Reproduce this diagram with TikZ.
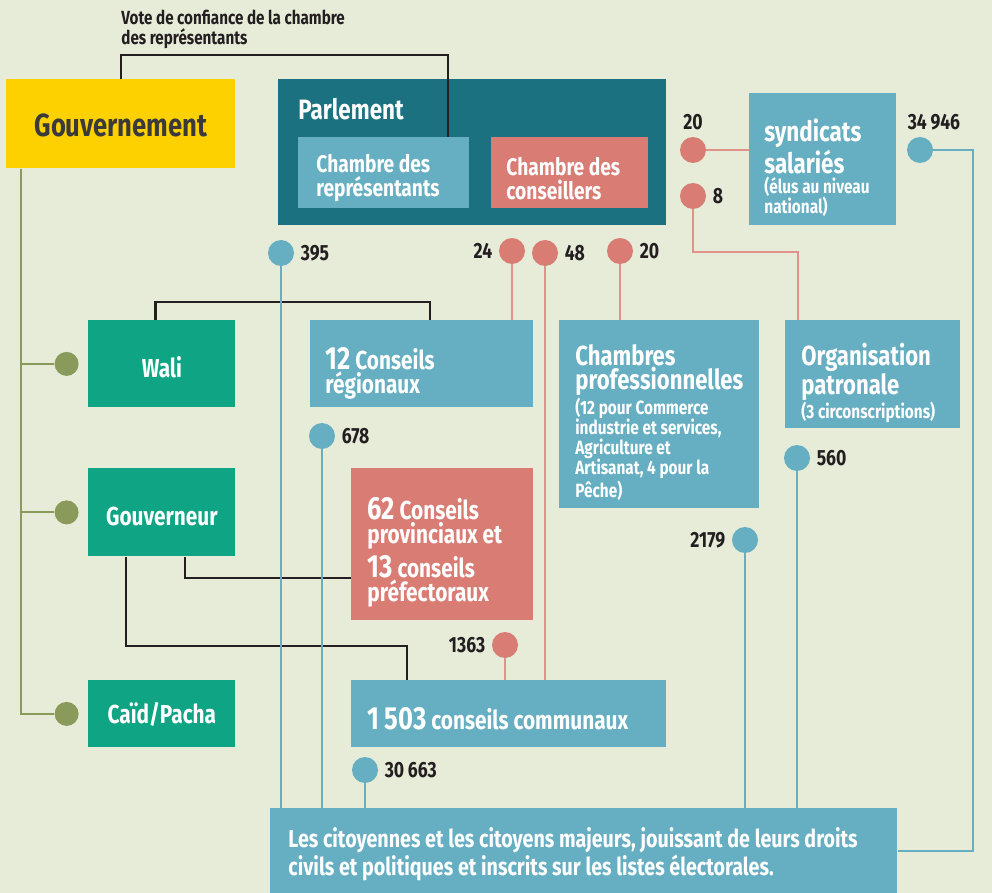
\documentclass[tikz,border=0pt]{standalone}
\usepackage{fontspec}
\setmainfont{Fira Sans}[FakeStretch=0.8]
\usetikzlibrary{positioning}
\setlength{\lineskiplimit}{-10pt}

\definecolor{fond}{HTML}{E7ECD9}
\definecolor{jaune}{HTML}{FDD100}
\definecolor{petrole}{HTML}{1B717F}
\definecolor{bleu}{HTML}{66AEC1}
\definecolor{saumon}{HTML}{D97C74}
\definecolor{saumonclair}{HTML}{E2928B}
\definecolor{vert}{HTML}{0FA584}
\definecolor{olive}{HTML}{8A9A5B}
\definecolor{encre}{HTML}{231F20}
\definecolor{gris}{HTML}{3A3A3A}

\newcommand{\gros}{\fontsize{16}{14}\selectfont}
\newcommand{\petit}{\fontsize{9.6}{10}\selectfont}
\newcommand{\moyen}{\fontsize{12}{10.5}\selectfont}

\tikzset{
    boite/.style={anchor=north west, inner xsep=8pt, inner ysep=0pt, align=flush left,
        text=white, font=\bfseries\fontsize{13}{12}\selectfont},
    bas/.style={execute at begin node={\rule{0pt}{\dimexpr0.74em+#1\relax}}},
    point/.style={circle, minimum size=13pt, inner sep=0pt},
    pbleu/.style={point, fill=bleu},
    psaumon/.style={point, fill=saumon},
    polive/.style={point, fill=olive, minimum size=12pt},
    nombre/.style={font=\bfseries\fontsize{11}{11}\selectfont, text=encre, inner sep=1pt},
    lbleu/.style={draw=bleu, line width=1pt},
    lsaumon/.style={draw=saumonclair, line width=1pt},
    lolive/.style={draw=olive, line width=1pt},
    lnoir/.style={draw=encre, line width=1.2pt}
}

\begin{document}
\begin{tikzpicture}[x=0.5pt, y=-0.5pt, label distance=2pt, every label/.style=nombre]
        \fill[fond] (0,0) rectangle (992,893);
        \useasboundingbox (0,0) rectangle (992,893);

        % boites
        \node[boite, fill=jaune, text=gris, align=center, minimum width=114.5pt, minimum height=44.5pt, text width=98.5pt,
            font=\bfseries\fontsize{16}{16}\selectfont, bas=1pt] (gouv) at (6,79) {Gouvernement};
        \node[boite, fill=petrole, minimum width=194pt, minimum height=73pt] (parl) at (278,79) {};
        \node[anchor=base west, inner sep=0pt, text=white, font=\bfseries\fontsize{14}{14}\selectfont] (parltxt) at (298,120) {Parlement};
        \node[boite, fill=bleu, inner xsep=9pt, minimum height=35.5pt, text width=67.5pt, bas=5pt] (chrep) at (298,137)
            {\moyen Chambre des\\représentants};
        \node[boite, fill=saumon, inner xsep=7.5pt, minimum height=35.5pt, text width=63.5pt, bas=5pt] (chcons) at (491,137)
            {\moyen Chambre des\\conseillers};
        \node[boite, fill=bleu, inner xsep=7.5pt, minimum height=66pt, text width=58.5pt, bas=10pt] (synd) at (749,93)
            {{\fontsize{14}{12.5}\selectfont syndicats\\salariés\par}{\petit (élus au niveau\\national)\par}};

        \node[boite, fill=vert, align=center, minimum height=43.5pt, text width=57.5pt, bas=4pt] (wali) at (88,320) {Wali};
        \node[boite, fill=vert, align=center, minimum height=44pt, text width=57.5pt, bas=4pt] (gouvr) at (88,468) {Gouverneur};
        \node[boite, fill=vert, align=center, minimum height=33.5pt, text width=57.5pt, bas=1pt] (caid) at (88,680) {Caïd/Pacha};

        \node[boite, fill=bleu, inner xsep=7.5pt, minimum height=43.5pt, text width=96.5pt, bas=11pt] (reg) at (310,320)
            {{\gros 12} Conseils\\régionaux};
        \node[boite, fill=bleu, minimum height=94pt, text width=84pt, bas=9pt] (cpro) at (559,320)
            {{\fontsize{13.8}{12}\selectfont Chambres\\professionnelles\par}{\petit (12 pour Commerce\\industrie et services,\\Agriculture et\\Artisanat, 4 pour la\\Pêche)\par}};
        \node[boite, fill=bleu, minimum height=54pt, text width=71.5pt, bas=10pt] (org) at (785,320)
            {{\fontsize{13.8}{12}\selectfont Organisation\\patronale\par}{\petit (3 circonscriptions)\par}};
        \node[boite, fill=saumon, minimum height=76pt, text width=75pt, bas=9pt] (prov) at (351,468)
            {{\gros 62} Conseils\\provinciaux et\\[2pt]{\gros 13} conseils\\préfectoraux};
        \node[boite, fill=bleu, minimum height=33.5pt, text width=141.5pt, bas=6pt] (comm) at (351,680)
            {{\gros 1\,503} conseils communaux};
        \node[boite, fill=bleu, inner xsep=9pt, minimum height=42.5pt, text width=295.5pt, bas=4pt] (cit) at (270,808)
            {\fontsize{12.3}{11}\selectfont Les citoyennes et les citoyens majeurs, jouissant de leurs droits\\civils et politiques et inscrits sur les listes électorales.};

        \node[anchor=north west, inner sep=0pt, align=left, text=encre, font=\bfseries\fontsize{9.5}{10}\selectfont] (vote) at (121,10)
            {Vote de confiance de la chambre\\des représentants};

        % points
        \node[psaumon, label=above:20] (s20a) at (693,150) {};
        \node[psaumon, label=right:8] (s8) at (693,196) {};
        \node[pbleu, label={[xshift=7pt]above:34\,946}] (b34946) at (920,150) {};
        \node[pbleu, label=right:395] (b395) at (281,253) {};
        \node[psaumon, label=left:24] (s24) at (512,251) {};
        \node[psaumon, label=right:48] (s48) at (545,253) {};
        \node[psaumon, label=right:20] (s20b) at (620,251) {};
        \node[pbleu, label=right:678] (b678) at (322,436) {};
        \node[pbleu, label=right:560] (b560) at (797,458) {};
        \node[pbleu, label=left:2179] (b2179) at (745,540) {};
        \node[psaumon, label=left:1363] (s1363) at (505,645) {};
        \node[pbleu, label=right:30\,663] (b30663) at (365,770) {};
        \node[polive, left=4.5pt of wali] (owali) {};
        \node[polive, left=4.5pt of gouvr] (ogouvr) {};
        \node[polive, left=4.5pt of caid] (ocaid) {};

        % liens
        \draw[lnoir] (gouv.north) -- ++(0,-24) -| ([xshift=-11pt]chrep.north east);
        \draw[lnoir] ([xshift=-3.25pt]wali.north) -- ++(0,-18) -| ([xshift=60pt]reg.north west);
        \draw[lnoir] ([xshift=48.5pt]gouvr.south west) |- ([yshift=-55pt]prov.north west);
        \draw[lnoir] ([xshift=19pt]gouvr.south west) -- ++(0,89) -| ([xshift=28pt]comm.north west);

        \coordinate (tronc) at ([xshift=7.5pt]gouv.south west);
        \foreach \o in {owali, ogouvr, ocaid}
            \draw[lolive] (tronc) |- (\o);

        \draw[lsaumon] (s20a) -- (s20a -| synd.west);
        \draw[lsaumon] (s8) -- ++(0,56) -| ([xshift=6.5pt]org.north west);
        \draw[lsaumon] (s24) -- (s24 |- reg.north);
        \draw[lsaumon] (s20b) -- (s20b |- cpro.north);
        \foreach \s in {s48, s1363}
            \draw[lsaumon] (\s) -- (\s |- comm.north);

        \draw[lbleu] (b34946) -| ([xshift=37.5pt]cit.east) -- (cit.east);
        \foreach \b in {b395, b678, b560, b2179, b30663}
            \draw[lbleu] (\b) -- (\b |- cit.north);
\end{tikzpicture}
\end{document}
